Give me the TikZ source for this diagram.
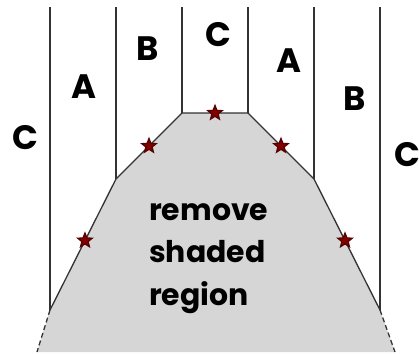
\documentclass[tikz,border=0pt]{standalone}
\usepackage{fontspec}
\setmainfont{Poppins}
\usetikzlibrary{shapes.geometric}

\begin{document}
\begin{tikzpicture}[x=1bp,y=-1bp,
  wall/.style={draw=black!80,line width=1.3bp},
  cut/.style={wall,dashed,dash pattern=on 5bp off 3bp},
  redstar/.style={star,star points=5,star point ratio=2.3,fill=red!50!black,draw=red!35!black,
    inner sep=0pt,minimum size=15bp},
  letter/.style={font=\fontsize{34}{34}\selectfont\bfseries},
  note/.style={font=\fontsize{30}{43}\selectfont\bfseries,align=left}]
  \useasboundingbox (0,0) rectangle (419,354);

  % corners of the shaded region
  \coordinate (tl) at (182,113);
  \coordinate (tr) at (248,113);
  \coordinate (ml) at (116,179);
  \coordinate (mr) at (314,179);
  \coordinate (bl) at (50,310);
  \coordinate (br) at (380,310);
  \coordinate (el) at (37,352);
  \coordinate (er) at (395,352);

  \fill[black!16] (tl) -- (tr) -- (mr) -- (br) -- (er) -- (el) -- (bl) -- (ml) -- cycle;

  % vertical walls
  \foreach \p/\x in {bl/50,ml/116,tl/182,tr/248,mr/314,br/380}{
    \coordinate (top\p) at (\x,7);
    \draw[wall] (\p) -- (top\p);
  }

  \draw[wall] (bl) -- node[redstar,pos=0.53] (s1) {} (ml)
    -- node[redstar] (s2) {} (tl)
    -- node[redstar] (s3) {} (tr)
    -- node[redstar] (s4) {} (mr)
    -- node[redstar,pos=0.47] (s5) {} (br);
  \draw[cut] (bl) -- (el);
  \draw[cut] (br) -- (er);

  % region labels
  \node[letter] (c1) at (25,138) {C};
  \node[letter] (a1) at (84,87) {A};
  \node[letter] (b1) at (148,49) {B};
  \node[letter] (c2) at (218,35) {C};
  \node[letter] (a2) at (289,61) {A};
  \node[letter] (b2) at (355,99) {B};
  \node[letter] (c3) at (407,155) {C};

  \node[note,anchor=north west,inner sep=0pt] (txt) at (149,203) {remove\\shaded\\region};
\end{tikzpicture}
\end{document}
